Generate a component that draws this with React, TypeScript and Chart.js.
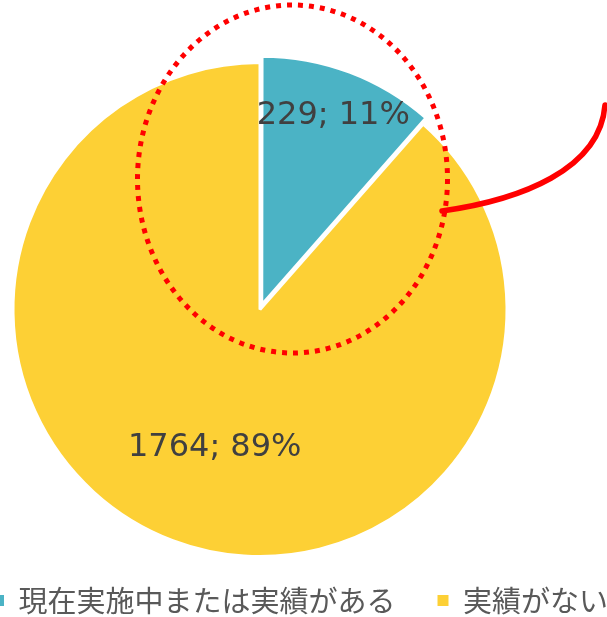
import React, { useEffect, useRef } from 'react';
import { Chart, registerables } from 'chart.js';

Chart.register(...registerables);

// ---- data ----
const categories = ['現在実施中または実績がある', '実績がない'];
const values = [229, 1764];
const colors = ['#4BB3C5', '#FDD035'];
const explode = [20, 0];
const labelRadiusFactors = [0.82, 0.59];
const labelAngleShift = [0, -0.045];

const dataLabelPlugin = {
  id: 'pieValueLabels',
  afterDatasetsDraw(chart: any) {
    const ctx = chart.ctx;
    const meta = chart.getDatasetMeta(0);
    const total = values.reduce((a, b) => a + b, 0);
    ctx.save();
    ctx.font = '32px "DejaVu Sans"';
    ctx.fillStyle = '#404040';
    ctx.textAlign = 'center';
    ctx.textBaseline = 'middle';
    meta.data.forEach((arc: any, i: number) => {
      const p = arc.getProps(['x', 'y', 'startAngle', 'endAngle', 'outerRadius'], true);
      const mid = (p.startAngle + p.endAngle) / 2 + labelAngleShift[i];
      const shift = explode[i] / 4;
      const r = p.outerRadius * labelRadiusFactors[i] + shift;
      const x = p.x + Math.cos(mid) * r;
      const y = p.y + Math.sin(mid) * r;
      ctx.fillText(`${values[i]}; ${Math.round((values[i] / total) * 100)}%`, x, y);
    });
    ctx.restore();
  },
};

const annotationPlugin = {
  id: 'redAnnotation',
  afterDraw(chart: any) {
    const arc = chart.getDatasetMeta(0).data[0];
    if (!arc) return;
    const cx = arc.x;
    const cy = arc.y;
    const ctx = chart.ctx;
    ctx.save();
    ctx.strokeStyle = '#FF0000';
    ctx.lineWidth = 5;
    ctx.setLineDash([5, 6]);
    ctx.beginPath();
    ctx.ellipse(cx + 32.5, cy - 130.5, 155, 174, 0, 0, Math.PI * 2);
    ctx.stroke();
    ctx.setLineDash([]);
    ctx.lineCap = 'round';
    ctx.lineWidth = 5.5;
    ctx.beginPath();
    ctx.moveTo(cx + 182, cy - 98.5);
    ctx.bezierCurveTo(cx + 260, cy - 109.5, cx + 340, cy - 139.5, cx + 345, cy - 204.5);
    ctx.stroke();
    ctx.restore();
  },
};

export default function App() {
  const canvasRef = useRef<HTMLCanvasElement | null>(null);

  useEffect(() => {
    if (!canvasRef.current) return;
    const chart = new Chart(canvasRef.current, {
      type: 'pie',
      data: {
        labels: categories,
        datasets: [
          {
            data: values,
            backgroundColor: colors,
            borderColor: '#FFFFFF',
            borderWidth: 3,
            offset: explode,
            clip: false,
          } as any,
        ],
      },
      options: {
        responsive: false,
        animation: false,
        radius: 247,
        layout: { padding: { top: 75, bottom: 0, left: 0, right: 0 } },
        plugins: {
          legend: {
            position: 'bottom',
            align: 'end',
            labels: {
              boxWidth: 11,
              boxHeight: 11,
              padding: 42,
              color: '#595959',
              font: { family: "'Noto Sans CJK JP'", size: 29 },
              generateLabels: () =>
                categories.map((c, i) => ({
                  text: c,
                  fillStyle: colors[i],
                  strokeStyle: colors[i],
                  lineWidth: 0,
                  hidden: false,
                  index: i,
                  fontColor: '#595959',
                })),
            },
          },
          tooltip: { enabled: false },
        },
      } as any,
      plugins: [dataLabelPlugin, annotationPlugin],
    });
    return () => chart.destroy();
  }, []);

  return (
    <div
      style={{
        position: 'fixed',
        left: 0,
        top: 0,
        width: 607,
        height: 617,
        overflow: 'hidden',
        background: '#FFFFFF',
      }}
    >
      <div style={{ position: 'absolute', left: -130, top: 0, width: 780, height: 625 }}>
        <canvas ref={canvasRef} width={780} height={625} style={{ width: 780, height: 625 }} />
      </div>
    </div>
  );
}
